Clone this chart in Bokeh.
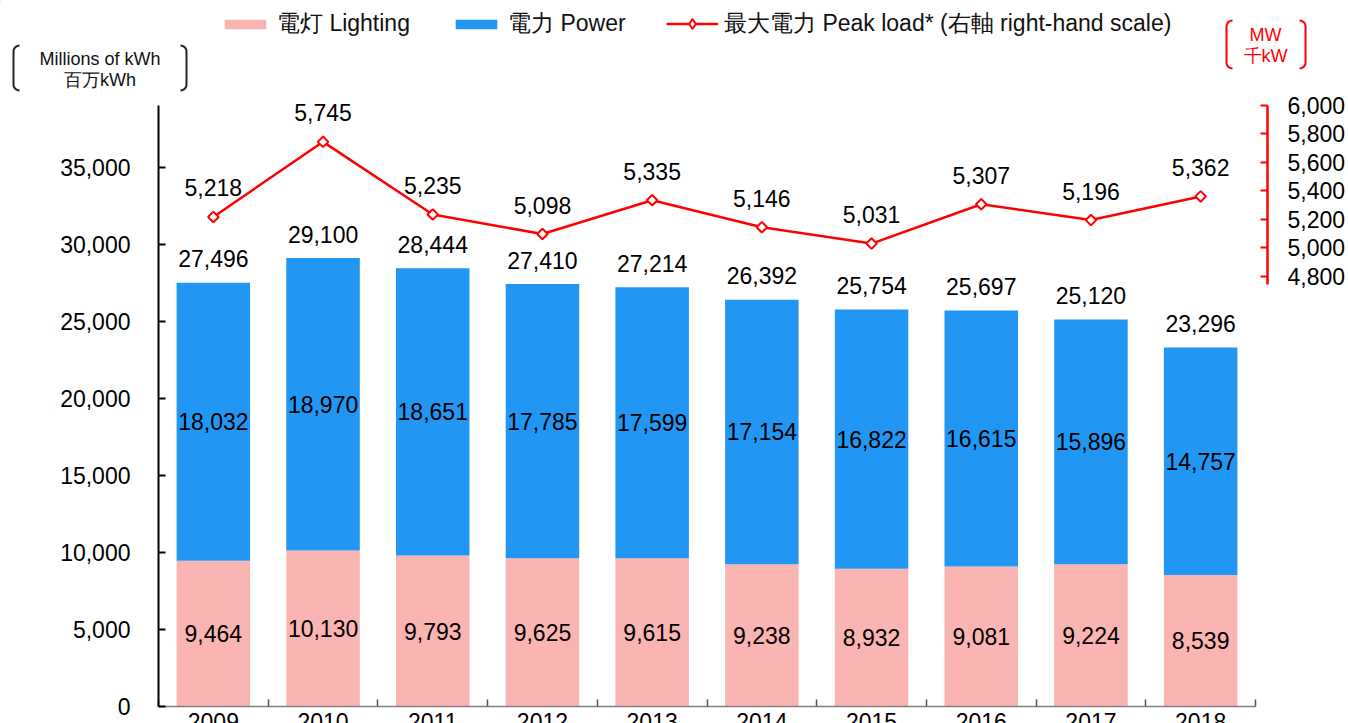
import numpy as np
from bokeh.plotting import figure
from bokeh.layouts import column, row
from bokeh.models import (Range1d, LinearAxis, FixedTicker, NumeralTickFormatter, Legend,
                          LegendItem, Label)
from bokeh.core.properties import value
from bokeh.embed import file_html
from bokeh.resources import INLINE

years = ["2009", "2010", "2011", "2012", "2013", "2014", "2015", "2016", "2017", "2018"]
lighting = [9464, 10130, 9793, 9625, 9615, 9238, 8932, 9081, 9224, 8539]
power = [18032, 18970, 18651, 17785, 17599, 17154, 16822, 16615, 15896, 14757]
totals = [27496, 29100, 28444, 27410, 27214, 26392, 25754, 25697, 25120, 23296]
peak = [5218, 5745, 5235, 5098, 5335, 5146, 5031, 5307, 5196, 5362]
series_names = ["電灯 Lighting", "電力 Power", "最大電力 Peak load* (右軸 right-hand scale)"]
left_title = ["Millions of kWh", "百万kWh"]
right_title = ["MW", "千kW"]

FONT = "Liberation Sans"
FS = "23px"
PINK = "#FAB4B1"
BLUE = "#2196F3"
RED = "#FF0000"
W = 1346
HEAD_H = 92
EXTRA = 10  # px of headroom above the axes' top, so top labels are not clipped

n = len(years)
xs = [i + 1 for i in range(n)]

# left scale: 0..39000 over 601px; right scale: 1782..6000 over the same 601px
left_top = 39000 + EXTRA * 39000 / 601
right_top = 6000 + EXTRA * (6000 - 1782) / 601

# ---------------- main chart ----------------
p = figure(frame_width=1109, frame_height=601 + EXTRA,
           x_range=Range1d(0.5, n + 0.5 + 12 / 109.7), y_range=Range1d(0, left_top),
           output_backend="svg", toolbar_location=None,
           min_border_left=158, min_border_top=105 - EXTRA - HEAD_H,
           min_border_right=W - 158 - 1109, min_border_bottom=40)
p.outline_line_color = None
p.grid.visible = False

r_light = p.vbar(x=xs, top=lighting, width=0.67, fill_color=PINK, line_color=None)
r_power = p.vbar(x=xs, bottom=lighting, top=[a + b for a, b in zip(lighting, power)],
                 width=0.67, fill_color=BLUE, line_color=None)

p.extra_y_ranges = {"peak": Range1d(1782, right_top)}
p.line(xs, peak, y_range_name="peak", line_color=RED, line_width=2.5)
p.scatter(xs, peak, y_range_name="peak", marker="square", angle=np.pi / 4, size=7.5,
          fill_color="white", line_color=RED, line_width=2)

lab = dict(text_font=value(FONT), text_font_size=FS, text_color="black",
           text_align="center", text_baseline="middle")
p.text(xs, [v / 2 for v in lighting], text=[f"{v:,}" for v in lighting], **lab)
p.text(xs, [l + v / 2 for l, v in zip(lighting, power)], text=[f"{v:,}" for v in power], **lab)
p.text(xs, [a + b for a, b in zip(lighting, power)], text=[f"{v:,}" for v in totals],
       y_offset=-24, **lab)
p.text(xs, peak, text=[f"{v:,}" for v in peak], y_offset=-29, y_range_name="peak", **lab)

xa = p.xaxis[0]
xa.ticker = FixedTicker(ticks=xs, minor_ticks=[i + 0.5 for i in range(n + 1)])
xa.major_label_overrides = {x: y for x, y in zip(xs, years)}
xa.major_tick_in = 0
xa.major_tick_out = 0
xa.minor_tick_in = 7
xa.minor_tick_out = 0
xa.minor_tick_line_color = "#555555"
xa.minor_tick_line_width = 1.5
xa.axis_line_color = "#808080"
xa.axis_line_width = 1.5
xa.bounds = (0.5, n + 0.5)
xa.major_label_text_font = FONT
xa.major_label_text_font_size = FS
xa.major_label_text_color = "black"
xa.major_label_standoff = 6

ya = p.yaxis[0]
ya.ticker = FixedTicker(ticks=list(range(0, 35001, 5000)))
ya.formatter = NumeralTickFormatter(format="0,0")
ya.bounds = (0, 39000)
ya.major_tick_in = 7
ya.major_tick_out = 0
ya.minor_tick_line_color = None
ya.axis_line_width = 2
ya.axis_line_color = "black"
ya.major_tick_line_width = 2
ya.major_label_text_font = FONT
ya.major_label_text_font_size = FS
ya.major_label_text_color = "black"
ya.major_label_standoff = 28

ra = LinearAxis(y_range_name="peak", ticker=FixedTicker(ticks=list(range(4800, 6001, 200))),
                formatter=NumeralTickFormatter(format="0,0"), bounds=(4745, 6000))
ra.major_tick_in = 7
ra.major_tick_out = 0
ra.minor_tick_line_color = None
ra.axis_line_color = RED
ra.axis_line_width = 2.5
ra.major_tick_line_color = RED
ra.major_tick_line_width = 2
ra.major_label_text_font = FONT
ra.major_label_text_font_size = FS
ra.major_label_text_color = "black"
ra.major_label_standoff = 20
p.add_layout(ra, "right")

# ---------------- header (legend + axis titles) ----------------
h = figure(width=W, height=HEAD_H, x_range=Range1d(0, W), y_range=Range1d(HEAD_H, 0),
           output_backend="svg", toolbar_location=None, x_axis_type=None, y_axis_type=None,
           min_border=0)
h.outline_line_color = None
h.grid.visible = False

# legend proxies, kept outside the visible header range
d_light = h.vbar(x=[-500], top=[1], width=1, fill_color=PINK, line_color=None)
d_power = h.vbar(x=[-500], top=[1], width=1, fill_color=BLUE, line_color=None)
d_line = h.line(x=[-500, -499], y=[1, 1], line_color=RED, line_width=2.5)
d_mark = h.scatter(x=[-500], y=[1], marker="diamond", size=10,
                   fill_color="white", line_color=RED, line_width=2)


def make_legend(label, rends, loc, gh):
    lg = Legend(items=[LegendItem(label=label, renderers=rends)], location=loc,
                orientation="horizontal")
    lg.label_text_font = FONT
    lg.label_text_font_size = FS
    lg.label_text_color = "#111111"
    lg.glyph_width = 52
    lg.glyph_height = gh
    lg.label_standoff = 6
    lg.padding = 0
    lg.margin = 0
    lg.border_line_color = None
    lg.background_fill_alpha = 0
    h.add_layout(lg, "center")


make_legend(series_names[0], [d_light], (219, HEAD_H - 39), 12)
make_legend(series_names[1], [d_power], (450, HEAD_H - 39), 12)
make_legend(series_names[2], [d_line, d_mark], (666, HEAD_H - 39), 25)

for txt, yy in zip(left_title, [58, 79]):
    h.add_layout(Label(x=99.5, y=yy, text=txt, text_font=FONT, text_font_size="18px",
                       text_color="#111111", text_align="center", text_baseline="middle"))
for txt, yy in zip(right_title, [34, 55]):
    h.add_layout(Label(x=1265, y=yy, text=txt, text_font=FONT, text_font_size="18px",
                       text_color=RED, text_align="center", text_baseline="middle"))


def bracket(x_edge, y0, y1, r, direction):
    t1 = np.linspace(-np.pi / 2, -np.pi, 8)
    t2 = np.linspace(np.pi, np.pi / 2, 8)
    cx = x_edge + r
    px = np.concatenate([cx + r * np.cos(t1), cx + r * np.cos(t2)])
    py = np.concatenate([y0 + r + r * np.sin(t1), y1 - r + r * np.sin(t2)])
    if direction < 0:
        px = 2 * x_edge - px
    return px, py


for (xe, y0, y1, d, col) in [(13, 45, 90, 1, "#222222"), (186, 45, 90, -1, "#222222"),
                             (1226, 20, 68, 1, RED), (1305, 20, 68, -1, RED)]:
    bx, by = bracket(xe, y0, y1, 6, d)
    h.line(bx, by, line_color=col, line_width=2)

layout = column(row(h), p, spacing=0)
open("out.html", "w").write(file_html(layout, INLINE))
